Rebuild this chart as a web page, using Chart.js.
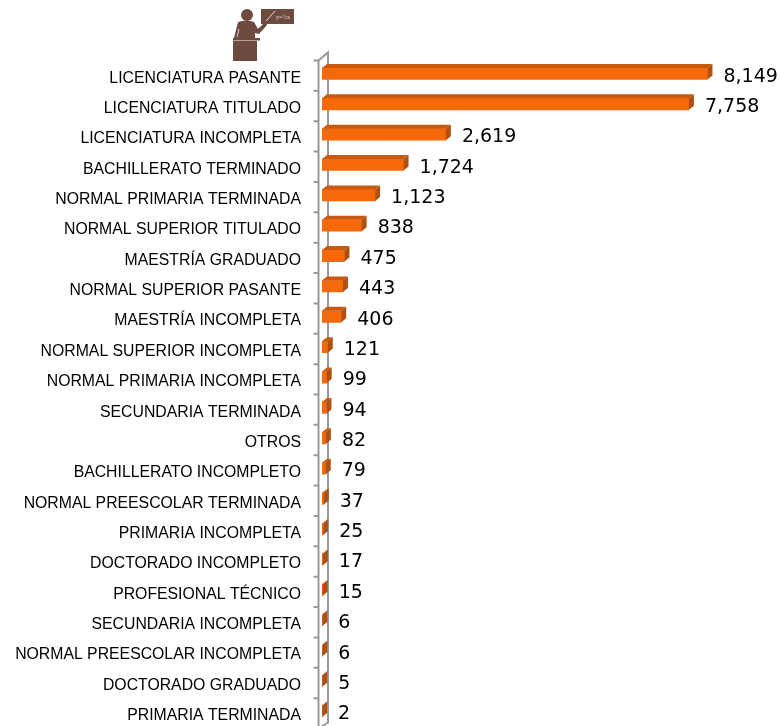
<!DOCTYPE html>
<html>
<head>
<meta charset="utf-8">
<title>Escolaridad</title>
<script src="https://cdn.jsdelivr.net/npm/chart.js@4/dist/chart.umd.min.js"></script>
<style>
    html, body { margin: 0; padding: 0; background: #fff; overflow: hidden; }
    #wrap { position: relative; width: 780px; height: 726px; overflow: hidden; }
    #teacher { position: absolute; left: 230px; top: 5px; }
    canvas { display: block; }
</style>
</head>
<body>
<div id="wrap">
    <canvas id="gradoChart" width="780" height="757"></canvas>
    <svg id="teacher" width="66" height="58" viewBox="230 5 66 58">
        <rect x="261" y="9" width="33" height="15" fill="#6e4a3f"/>
        <circle cx="247" cy="15" r="6" fill="#6e4a3f"/>
        <path d="M238 22 Q247 19 254 22 L258 29 L266 21 L267 25 L259 34 L255 33 L255 38 L234 38 Z" fill="#6e4a3f"/>
        <line x1="239" y1="29" x2="237" y2="37" stroke="#fff" stroke-width="0.7"/>
        <line x1="266" y1="21" x2="275" y2="11" stroke="#fff" stroke-width="0.8"/>
        <text x="276" y="19" font-family="Liberation Serif" font-size="6" fill="#e8dcd6">y=&#189;x</text>
        <rect x="233" y="38" width="27" height="2.5" fill="#6e4a3f"/>
        <rect x="233" y="41" width="24" height="20" fill="#6e4a3f"/>
    </svg>
</div>
<script>
const categories = [
    'LICENCIATURA PASANTE', 'LICENCIATURA TITULADO', 'LICENCIATURA INCOMPLETA',
    'BACHILLERATO TERMINADO', 'NORMAL PRIMARIA TERMINADA', 'NORMAL SUPERIOR TITULADO',
    'MAESTRÍA GRADUADO', 'NORMAL SUPERIOR PASANTE', 'MAESTRÍA INCOMPLETA',
    'NORMAL SUPERIOR INCOMPLETA', 'NORMAL PRIMARIA INCOMPLETA', 'SECUNDARIA TERMINADA',
    'OTROS', 'BACHILLERATO INCOMPLETO', 'NORMAL PREESCOLAR TERMINADA',
    'PRIMARIA INCOMPLETA', 'DOCTORADO INCOMPLETO', 'PROFESIONAL TÉCNICO',
    'SECUNDARIA INCOMPLETA', 'NORMAL PREESCOLAR INCOMPLETA', 'DOCTORADO GRADUADO',
    'PRIMARIA TERMINADA'
];
const personas = [8149, 7758, 2619, 1724, 1123, 838, 475, 443, 406, 121, 99, 94, 82, 79, 37, 25, 17, 15, 6, 6, 5, 2];

const DEPTH_X = 5;
const DEPTH_Y = 4;

// fake 3D: wall behind the bars, then top and side faces on each bar
const bar3d = {
    id: 'bar3d',
    beforeDatasetsDraw(chart) {
        const ctx = chart.ctx;
        const area = chart.chartArea;
        const yScale = chart.scales.y;
        const band = yScale.getPixelForValue(1) - yScale.getPixelForValue(0);
        const front = area.left - 3.5;
        const back = area.left + 6;
        const top = yScale.getPixelForValue(0) - band / 2 + 2;
        const bottom = yScale.getPixelForValue(categories.length - 1) + band / 2 + 2;

        ctx.save();
        ctx.strokeStyle = '#999999';
        ctx.lineWidth = 2;
        ctx.beginPath();
        ctx.moveTo(front - 5, top);
        ctx.lineTo(front, top);
        ctx.lineTo(back, top - 8);
        ctx.lineTo(back, bottom - 6);
        ctx.lineTo(front, bottom);
        ctx.moveTo(front, top);
        ctx.lineTo(front, bottom);
        categories.forEach((c, i) => {
            const y = yScale.getPixelForValue(i) + band / 2 + 2;
            ctx.moveTo(front - 5, y);
            ctx.lineTo(front, y);
        });
        ctx.stroke();
        ctx.restore();
    },
    afterDatasetsDraw(chart) {
        const ctx = chart.ctx;
        chart.getDatasetMeta(0).data.forEach((bar, i) => {
            const t = bar.y - bar.height / 2;
            const b = bar.y + bar.height / 2;
            ctx.save();
            // top face
            ctx.fillStyle = '#c8590f';
            ctx.beginPath();
            ctx.moveTo(bar.base, t);
            ctx.lineTo(bar.base + DEPTH_X, t - DEPTH_Y);
            ctx.lineTo(bar.x + DEPTH_X, t - DEPTH_Y);
            ctx.lineTo(bar.x, t);
            ctx.closePath();
            ctx.fill();
            // side face
            ctx.fillStyle = '#b0500f';
            ctx.beginPath();
            ctx.moveTo(bar.x, t);
            ctx.lineTo(bar.x + DEPTH_X, t - DEPTH_Y);
            ctx.lineTo(bar.x + DEPTH_X, b - DEPTH_Y);
            ctx.lineTo(bar.x, b);
            ctx.closePath();
            ctx.fill();
            // value label
            ctx.fillStyle = '#000';
            ctx.font = '19px "DejaVu Sans"';
            ctx.textAlign = 'left';
            ctx.textBaseline = 'middle';
            ctx.fillText(personas[i].toLocaleString('en-US'), bar.x + 16, bar.y + 3);
            ctx.restore();
        });
    }
};

new Chart(document.getElementById('gradoChart').getContext('2d'), {
    type: 'bar',
    data: {
        labels: categories,
        datasets: [{
            data: personas,
            backgroundColor: '#f76808',
            borderWidth: 0,
            barThickness: 11.5
        }]
    },
    options: {
        indexAxis: 'y',
        responsive: false,
        animation: false,
        layout: { padding: { top: 58.5, right: 32.3, bottom: 12.7, left: 0 } },
        plugins: { legend: { display: false }, tooltip: { enabled: false } },
        scales: {
            x: { display: false, min: 0, max: 9000 },
            y: {
                afterFit(scale) { scale.width = 322; },
                grid: { display: false, drawTicks: false },
                border: { display: false },
                ticks: {
                    autoSkip: false,
                    padding: 21,
                    labelOffset: 4.5,
                    color: '#000',
                    font: { family: 'Liberation Sans', size: 15.8 }
                }
            }
        }
    },
    plugins: [bar3d]
});
</script>
</body>
</html>
